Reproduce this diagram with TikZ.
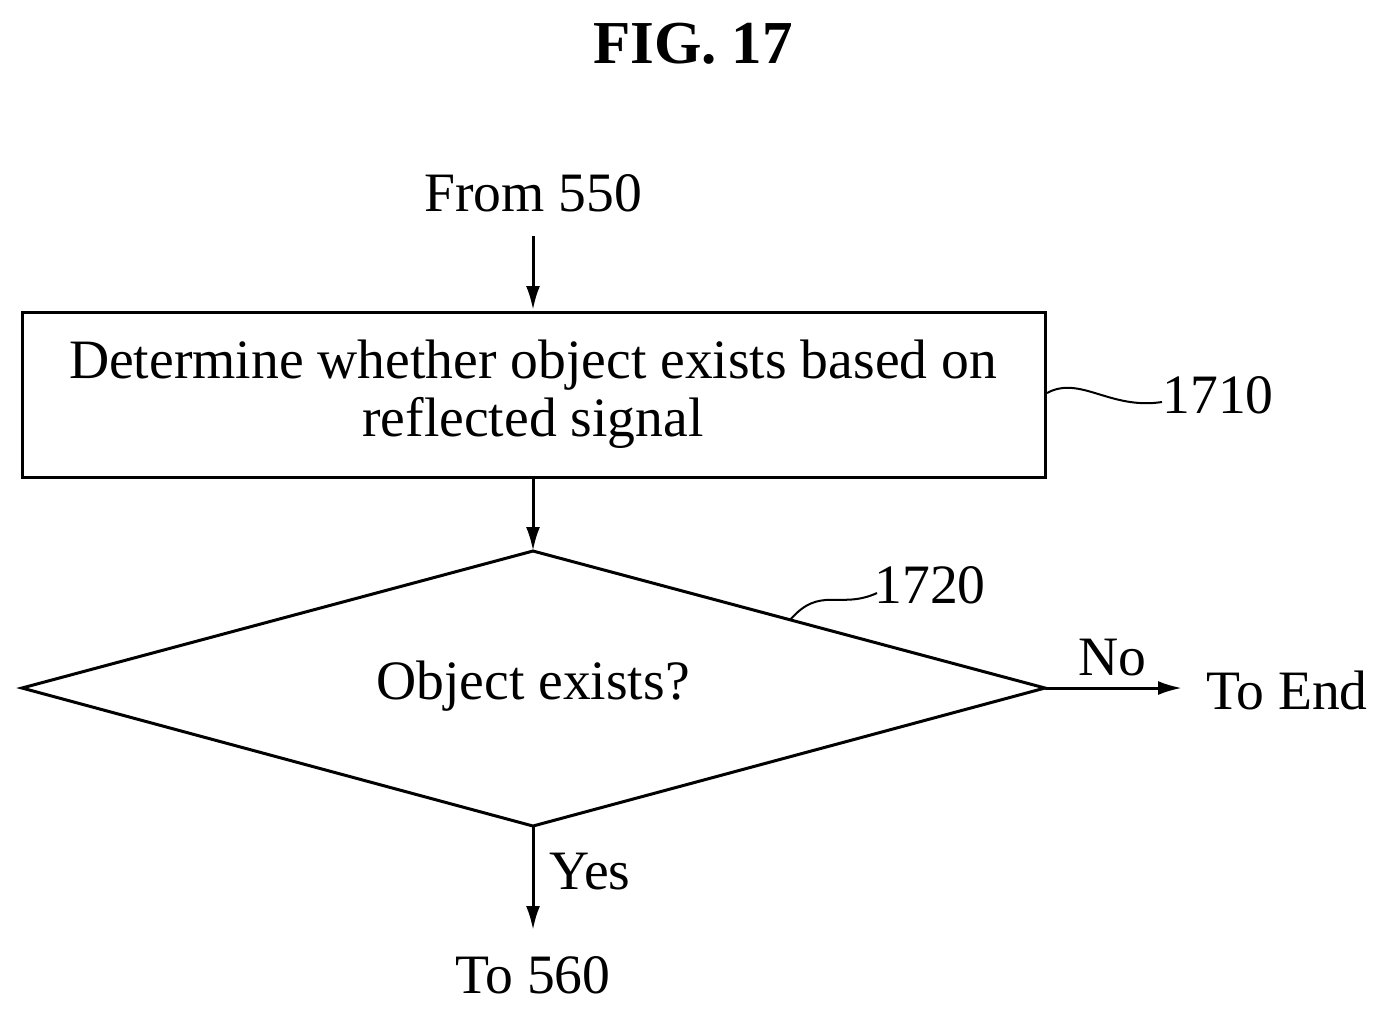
\documentclass[tikz,border=0pt]{standalone}
\usepackage{fontspec}
\setmainfont{Liberation Serif}
\usetikzlibrary{arrows.meta}
\begin{document}
\begin{tikzpicture}[x=0.5pt,y=-0.5pt,
  line width=1.5pt,
  arr/.style={-{Latex[length=12pt,width=7pt]}},
  txt/.style={font=\fontsize{27.8}{29}\selectfont, inner sep=0}]
\useasboundingbox (0,0) rectangle (1390,1014);
\node[font=\bfseries\fontsize{30.5}{34}\selectfont, inner sep=0] (title) at (693,44) {FIG. 17};
\node[txt] (from) at (533,193) {From 550};
\coordinate (rtl) at (22,312); \coordinate (rbr) at (1045,477);
\draw (rtl) rectangle (rbr);
\node[txt, align=center] (box) at (533,394) {Determine whether object exists based on\\reflected signal};
\coordinate (ft) at (533,236); \coordinate (rt) at (533,310);
\draw[arr] (ft) -- (rt);
\coordinate (rb) at (533,479);
\coordinate (dt) at (533,551); \coordinate (dl) at (22,688); \coordinate (dr) at (1045,688); \coordinate (db) at (533,826);
\draw[arr] (rb) -- (dt);
\draw (dt) -- (dr) -- (db) -- (dl) -- cycle;
\node[txt] (dec) at (533,686) {Object exists?};
\node[txt] (l1710) at (1218,395) {1710};
\coordinate (s1a) at (1047,393); \coordinate (s1b) at (1162,402);
\draw[line width=1pt] (s1a) .. controls (1080,375) and (1110,410) .. (s1b);
\node[txt] (l1720) at (930,585) {1720};
\coordinate (s2a) at (790,620); \coordinate (s2b) at (877,593);
\draw[line width=1pt] (s2a) .. controls (820,585) and (840,610) .. (s2b);
\coordinate (no) at (1182,688);
\draw[arr] (dr) -- (no);
\node[txt] (nol) at (1112,658) {No};
\node[txt] (toend) at (1287,690) {To End};
\coordinate (yes) at (533,930);
\draw[arr] (db) -- (yes);
\node[txt] (yesl) at (590,872) {Yes};
\node[txt] (to560) at (533,975) {To 560};
\end{tikzpicture}
\end{document}
